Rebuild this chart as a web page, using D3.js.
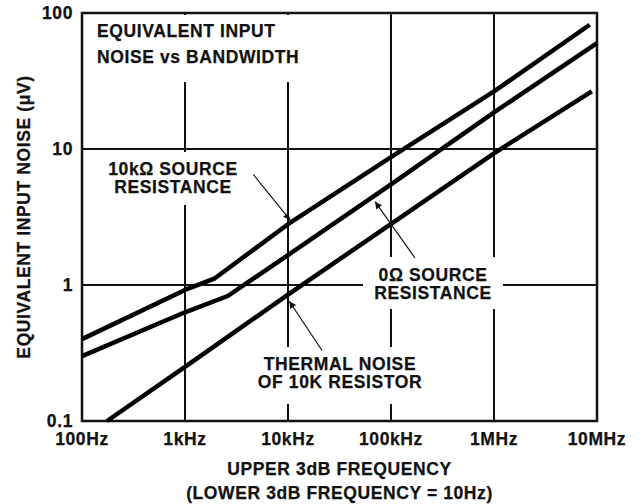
<!DOCTYPE html>
<html>
<head>
<meta charset="utf-8">
<script src="https://cdn.jsdelivr.net/npm/d3@7"></script>
<style>
body { margin: 0; background: #fff; }
text { font-family: "Liberation Sans", Arial, Helvetica, sans-serif; font-weight: bold; fill: #111; font-size: 17.5px; letter-spacing: 0.6px; stroke: #111; stroke-width: 0.25px; }
</style>
</head>
<body>
<script>
var margin = {top: 13, right: 42, bottom: 83, left: 82},
    width = 639 - margin.left - margin.right,
    height = 504 - margin.top - margin.bottom;

// axis ticks
var freqTicks = [100, 1e3, 1e4, 1e5, 1e6, 1e7];
var freqLabels = ["100Hz", "1kHz", "10kHz", "100kHz", "1MHz", "10MHz"];
var noiseTicks = [0.1, 1, 10, 100];
var noiseLabels = ["0.1", "1", "10", "100"];

// curves (Hz, uV)
var freq10k  = [100, 1000, 1950, 10000, 100000, 1e6, 8.5e6];
var noise10k = [0.40, 0.92, 1.12, 2.8, 8.7, 26.5, 82];
var freq0    = [100, 1000, 2600, 10000, 100000, 1e6, 1e7];
var noise0   = [0.30, 0.63, 0.83, 1.66, 5.5, 18.6, 60];
var freqTh   = [175, 1000, 10000, 1e6, 8.9e6];
var noiseTh  = [0.1, 0.25, 0.85, 9.3, 26.5];

var series = [
  {f: freq10k, v: noise10k},
  {f: freq0, v: noise0},
  {f: freqTh, v: noiseTh}
];

var svg = d3.select("body").append("svg")
    .attr("width", 639)
    .attr("height", 504);

var defs = svg.append("defs");
defs.append("marker")
    .attr("id", "head")
    .attr("viewBox", "0 0 10 10")
    .attr("refX", 10).attr("refY", 5)
    .attr("markerWidth", 11).attr("markerHeight", 7)
    .attr("markerUnits", "userSpaceOnUse")
    .attr("orient", "auto")
  .append("path")
    .attr("d", "M0,0 L10,5 L0,10 Z")
    .attr("fill", "#111");

var g = svg.append("g")
    .attr("transform", "translate(" + margin.left + "," + margin.top + ")");

var x = d3.scaleLog().domain([100, 1e7]).range([0, width]);
var y = d3.scaleLog().domain([0.1, 100]).range([height, 0]);

// grid
g.selectAll(".vgrid")
  .data(freqTicks.slice(1, -1))
  .enter().append("line")
    .attr("x1", d => x(d)).attr("x2", d => x(d))
    .attr("y1", 0).attr("y2", height)
    .attr("stroke", "#111").attr("stroke-width", 2);

g.selectAll(".hgrid")
  .data(noiseTicks.slice(1, -1))
  .enter().append("line")
    .attr("x1", 0).attr("x2", width)
    .attr("y1", d => y(d)).attr("y2", d => y(d))
    .attr("stroke", "#111").attr("stroke-width", 2);

// white boxes behind the labels (break the grid like the original)
var boxes = [
  [3, 2, 215, 67],      // title
  [26, 139, 150, 53],   // 10k source
  [281, 244, 140, 52],  // 0 ohm source
  [176, 334, 165, 57]   // thermal
];
g.selectAll(".box")
  .data(boxes)
  .enter().append("rect")
    .attr("x", d => d[0]).attr("y", d => d[1])
    .attr("width", d => d[2]).attr("height", d => d[3])
    .attr("fill", "#fff");

// frame
g.append("rect")
    .attr("width", width).attr("height", height)
    .attr("fill", "none").attr("stroke", "#111").attr("stroke-width", 2.5);

// curves
var line = d3.line()
    .x(d => x(d[0]))
    .y(d => y(d[1]));

g.selectAll(".curve")
  .data(series)
  .enter().append("path")
    .attr("d", s => line(s.f.map((f, i) => [f, s.v[i]])))
    .attr("fill", "none")
    .attr("stroke", "#000")
    .attr("stroke-width", 4.5)
    .attr("stroke-linejoin", "round");

// tick labels
g.selectAll(".xl")
  .data(freqTicks)
  .enter().append("text")
    .attr("x", d => x(d))
    .attr("y", height + 24)
    .attr("text-anchor", "middle")
    .text((d, i) => freqLabels[i]);

g.selectAll(".yl")
  .data(noiseTicks)
  .enter().append("text")
    .attr("x", -9)
    .attr("y", d => y(d) + 6)
    .attr("text-anchor", "end")
    .text((d, i) => noiseLabels[i]);

// axis titles
g.append("text")
    .attr("x", width / 2)
    .attr("y", height + 54)
    .attr("text-anchor", "middle")
    .text("UPPER 3dB FREQUENCY");
g.append("text")
    .attr("x", width / 2)
    .attr("y", height + 78)
    .attr("text-anchor", "middle")
    .text("(LOWER 3dB FREQUENCY = 10Hz)");

svg.append("text")
    .attr("transform", "translate(30,217) rotate(-90)")
    .attr("text-anchor", "middle")
    .text("EQUIVALENT INPUT NOISE (\u03BCV)");

// labels inside the plot, one text per line
var labels = [
  {x: 15, y: 24, step: 26, anchor: "start", lines: ["EQUIVALENT INPUT", "NOISE vs BANDWIDTH"]},
  {x: 91, y: 161.5, step: 18.5, anchor: "middle", lines: ["10k\u03A9 SOURCE", "RESISTANCE"]},
  {x: 351, y: 267.5, step: 18.5, anchor: "middle", lines: ["0\u03A9 SOURCE", "RESISTANCE"]},
  {x: 258, y: 356.5, step: 18.5, anchor: "middle", lines: ["THERMAL NOISE", "OF 10K RESISTOR"]}
];
labels.forEach(function(l) {
  l.lines.forEach(function(s, i) {
    g.append("text")
      .attr("text-anchor", l.anchor)
      .attr("x", l.x)
      .attr("y", l.y + i * l.step)
      .text(s);
  });
});

// arrows, end points in data units [from, to]
var arrows = [
  [[4600, 6.5], [10500, 3.0]],
  [[171000, 1.58], [70000, 4.1]],
  [[21400, 0.33], [10300, 0.76]]
];
g.selectAll(".arrow")
  .data(arrows)
  .enter().append("line")
    .attr("x1", d => x(d[0][0])).attr("y1", d => y(d[0][1]))
    .attr("x2", d => x(d[1][0])).attr("y2", d => y(d[1][1]))
    .attr("stroke", "#111").attr("stroke-width", 1.2)
    .attr("marker-end", "url(#head)");
</script>
</body>
</html>
